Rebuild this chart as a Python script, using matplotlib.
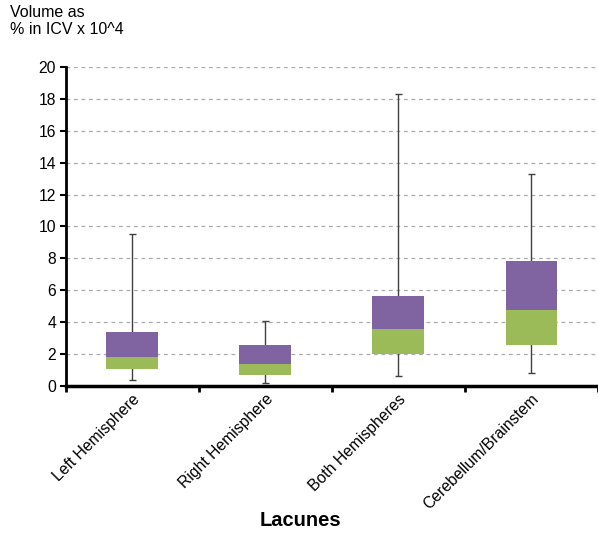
import matplotlib.pyplot as plt
import numpy as np

plt.rcParams['font.family'] = ['Liberation Sans', 'DejaVu Sans']

categories = ['Left Hemisphere', 'Right Hemisphere', 'Both Hemispheres', 'Cerebellum/Brainstem']
mins = [0.36, 0.21, 0.63, 0.80]
q1 = [1.07, 0.67, 1.99, 2.57]
medians = [1.84, 1.40, 3.55, 4.75]
q3 = [3.39, 2.59, 5.66, 7.82]
maxs = [9.5, 4.1, 18.3, 13.27]

green = '#9BBB59'
purple = '#8064A2'

fig = plt.figure(figsize=(5.98, 5.35), dpi=100)
ax = fig.add_axes([0.110, 0.2785, 0.89, 0.5963])

x = np.arange(len(categories)) + 0.5
q1 = np.array(q1)
medians = np.array(medians)
q3 = np.array(q3)

# whiskers behind the boxes
ax.vlines(x, mins, maxs, color='#404040', lw=1, zorder=2)
ax.hlines(mins, x - 0.025, x + 0.025, color='#404040', lw=1, zorder=2)
ax.hlines(maxs, x - 0.025, x + 0.025, color='#404040', lw=1, zorder=2)

# lower and upper halves of the box
ax.bar(x, medians - q1, bottom=q1, width=0.39, color=green, zorder=3)
ax.bar(x, q3 - medians, bottom=medians, width=0.39, color=purple, zorder=3)

ax.set_xlim(0, 4)
ax.set_ylim(0, 20)
ax.set_yticks(np.arange(0, 21, 2))
ax.yaxis.grid(True, linestyle=(0, (3, 3)), color='#aaaaaa', lw=0.9)
ax.set_axisbelow(True)

ax.set_xticks(np.arange(0, 5))
ax.set_xticklabels([])
ax.set_xticks(x, minor=True)
ax.set_xticklabels(categories, minor=True, rotation=45, ha='right',
                   va='top', rotation_mode='anchor', fontsize=11.3)
ax.tick_params(axis='x', which='minor', length=0, pad=4)
ax.tick_params(axis='x', which='major', length=4, width=2, direction='out')
ax.tick_params(axis='y', length=4, width=1.5, labelsize=11.3, pad=3)

for side in ['top', 'right']:
    ax.spines[side].set_visible(False)
ax.spines['left'].set_linewidth(2)
ax.spines['bottom'].set_linewidth(2.5)

fig.text(0.017, 0.99, 'Volume as\n% in ICV x 10^4', ha='left', va='top',
         fontsize=11.5, linespacing=1.15)
fig.text(0.503, 0.028, 'Lacunes', ha='center', va='center',
         fontsize=14.5, fontweight='bold')

fig.savefig('out.png', dpi=100)
